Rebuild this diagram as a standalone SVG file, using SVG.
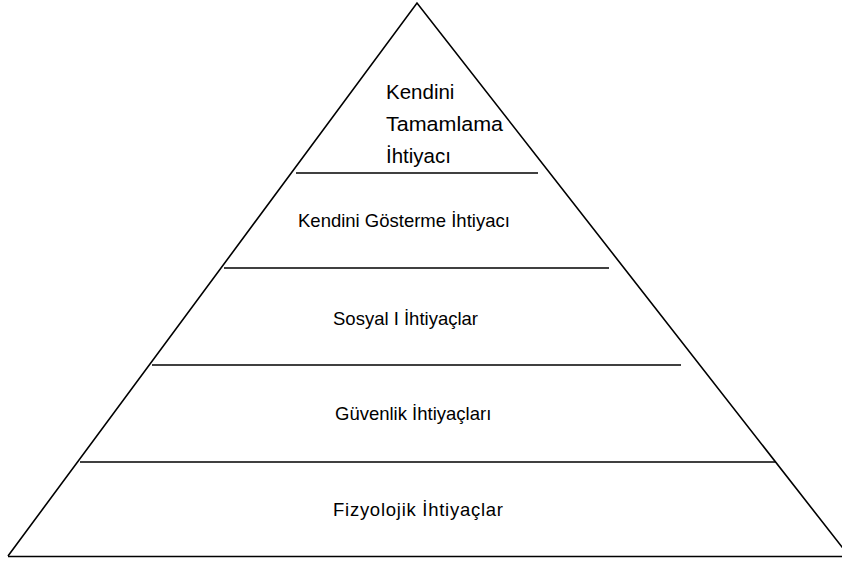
<svg xmlns="http://www.w3.org/2000/svg" width="842" height="564" viewBox="0 0 842 564">
<style>
.edge{stroke:#000;stroke-width:1.6;fill:none}
.lbl{font-family:"Liberation Sans",Arial,sans-serif;font-size:18.5px;fill:#000}
.top{font-family:"Liberation Sans",Arial,sans-serif;font-size:20.5px;fill:#000}
</style>
<rect width="842" height="564" fill="#fff"/>
<g id="pyramid">
<polyline class="edge" points="8,556 417,3 849,556"/>
<line class="edge" x1="8" y1="556.5" x2="842" y2="556.5" stroke-width="2"/>
</g>
<g id="connectors">
<line class="edge" x1="296" y1="173" x2="538" y2="173"/>
<line class="edge" x1="224" y1="268" x2="609" y2="268"/>
<line class="edge" x1="152" y1="365" x2="681" y2="365"/>
<line class="edge" x1="80" y1="462" x2="776" y2="462" stroke-width="2"/>
</g>
<g id="level5">
<text class="top" x="386" y="99">Kendini</text>
<text class="top" x="386" y="131" textLength="117" lengthAdjust="spacingAndGlyphs">Tamamlama</text>
<text class="top" x="386" y="163">İhtiyacı</text>
</g>
<g id="level4"><text class="lbl" x="298" y="227">Kendini Gösterme İhtiyacı</text></g>
<g id="level3"><text class="lbl" x="333" y="325">Sosyal I İhtiyaçlar</text></g>
<g id="level2"><text class="lbl" x="335" y="420">Güvenlik İhtiyaçları</text></g>
<g id="level1"><text class="lbl" x="333" y="516" textLength="170" lengthAdjust="spacing">Fizyolojik İhtiyaçlar</text></g>
</svg>
